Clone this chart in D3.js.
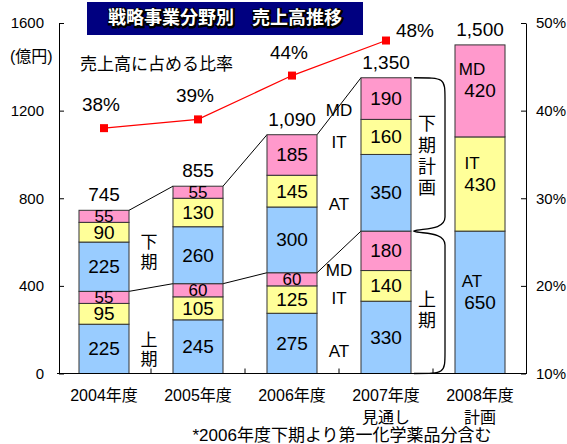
<!DOCTYPE html>
<html><head><meta charset="utf-8">
<script src="https://cdn.jsdelivr.net/npm/d3@7"></script>
<style>
body{margin:0;background:#fff;}
text{font-family:"Liberation Sans","Noto Sans CJK JP",sans-serif;fill:#000;}
</style></head>
<body><svg id="c" width="567" height="444"></svg>
<script>
const years = ["2004","2005","2006","2007","2008"];
const yearLabels = [["2004年度"],["2005年度"],["2006年度"],["2007年度","見通し"],["2008年度","計画"]];
const firstAT = [225,245,275,330];
const firstIT = [95,105,125,140];
const firstMD = [55,60,60,180];
const secondAT = [225,260,300,350];
const secondIT = [90,130,145,160];
const secondMD = [55,55,185,190];
const planAT = 650, planIT = 430, planMD = 420;
const totals = ["745","855","1,090","1,350","1,500"];
const ratio = [38,39,44,48];
const leftTicks = [0,400,800,1200,1600];
const rightTicks = [10,20,30,40,50];
const colors = {AT:"#99CCFF", IT:"#FFFF99", MD:"#FF99CC"};

const svg = d3.select("#c");
const x = d3.scaleBand().domain(years).range([57,527]).paddingInner(0.468).paddingOuter(0.234);
const y = d3.scaleLinear().domain([0,1600]).range([373.5,23]);
const y2 = d3.scaleLinear().domain([10,50]).range([373.5,23]);
const bw = x.bandwidth();

// Build segments
const segs = [];
years.forEach((yr,i)=>{
  if(i<4){
    let base=0;
    [["AT",firstAT[i]],["IT",firstIT[i]],["MD",firstMD[i]],["AT",secondAT[i]],["IT",secondIT[i]],["MD",secondMD[i]]].forEach(([k,v])=>{
      segs.push({yr,k,v,y0:base,y1:base+v}); base+=v;
    });
  } else {
    let base=0;
    [["AT",planAT],["IT",planIT],["MD",planMD]].forEach(([k,v])=>{
      segs.push({yr,k,v,y0:base,y1:base+v,plan:true}); base+=v;
    });
  }
});
const barTop = years.map((yr,i)=> i<4 ? firstAT[i]+firstIT[i]+firstMD[i]+secondAT[i]+secondIT[i]+secondMD[i] : planAT+planIT+planMD);
const halfTop = years.slice(0,4).map((yr,i)=> firstAT[i]+firstIT[i]+firstMD[i]);

// connector lines
const conn = svg.append("g").attr("stroke","#000").attr("stroke-width",1);
for(let i=0;i<3;i++){
  conn.append("line").attr("x1",x(years[i])+bw).attr("y1",y(barTop[i])).attr("x2",x(years[i+1])).attr("y2",y(barTop[i+1]));
  conn.append("line").attr("x1",x(years[i])+bw).attr("y1",y(halfTop[i])).attr("x2",x(years[i+1])).attr("y2",y(halfTop[i+1]));
}

// bars
svg.append("g").selectAll("rect").data(segs).join("rect")
  .attr("x",d=>x(d.yr)).attr("width",bw)
  .attr("y",d=>y(d.y1)).attr("height",d=>y(d.y0)-y(d.y1))
  .attr("fill",d=>colors[d.k]).attr("stroke","#333").attr("stroke-width",1);

// segment labels
svg.append("g").selectAll("text").data(segs).join("text")
  .attr("x",d=>x(d.yr)+bw/2).attr("y",d=>(y(d.y0)+y(d.y1))/2)
  .attr("text-anchor","middle").attr("dominant-baseline","central")
  .attr("font-size",d=>d.v<70?17:19).text(d=>d.v);
// plan category labels
svg.append("g").selectAll("text").data(segs.filter(d=>d.plan)).join("text")
  .attr("x",x("2008")+bw/2-8).attr("y",d=>(y(d.y0)+y(d.y1))/2-21)
  .attr("text-anchor","middle").attr("dominant-baseline","central")
  .attr("font-size",17).text(d=>d.k);

// totals
svg.append("g").selectAll("text").data(years).join("text")
  .attr("x",d=>x(d)+bw/2).attr("y",(d,i)=>y(barTop[i])-9)
  .attr("text-anchor","middle").attr("font-size",19).text((d,i)=>totals[i]);

// axes
const axL = svg.append("g").attr("transform","translate(59,0)")
  .call(d3.axisLeft(y).tickValues(leftTicks).tickSize(-5).tickPadding(15).tickFormat(d3.format("d")).tickSizeOuter(0));
axL.select(".domain").attr("stroke","#000");
axL.selectAll("text").attr("font-size",15).attr("font-family","Liberation Sans");
const axR = svg.append("g").attr("transform","translate(526,0)")
  .call(d3.axisRight(y2).tickValues(rightTicks).tickSize(-5).tickPadding(10).tickFormat(d=>d+"%").tickSizeOuter(0));
axR.selectAll("text").attr("font-size",15).attr("font-family","Liberation Sans");
svg.append("line").attr("x1",57).attr("x2",527).attr("y1",y(0)).attr("y2",y(0)).attr("stroke","#000");
svg.append("g").selectAll("line").data(years.slice(1)).join("line")
  .attr("x1",d=>x(d)-x.step()*x.paddingInner()/2).attr("x2",d=>x(d)-x.step()*x.paddingInner()/2)
  .attr("y1",y(0)).attr("y2",y(0)-5).attr("stroke","#000");

// year labels
const yl = svg.append("g").selectAll("text").data(years).join("text")
  .attr("x",d=>x(d)+bw/2).attr("y",401).attr("text-anchor","middle").attr("font-size",16);
yl.each(function(d,i){
  const t=d3.select(this);
  yearLabels[i].forEach((s,j)=>t.append("tspan").attr("x",x(d)+bw/2).attr("dy",j?22:0).text(s));
});

// ratio line
const lineData = ratio.map((v,i)=>({yr:years[i],v}));
svg.append("path").datum(lineData)
  .attr("d",d3.line().x(d=>x(d.yr)+bw/2).y(d=>y2(d.v)))
  .attr("fill","none").attr("stroke","#FF0000").attr("stroke-width",1.2);
svg.append("g").selectAll("rect").data(lineData).join("rect")
  .attr("x",d=>x(d.yr)+bw/2-4).attr("y",d=>y2(d.v)-4).attr("width",8).attr("height",8).attr("fill","#FF0000");
svg.append("g").selectAll("text").data(lineData).join("text")
  .attr("x",(d,i)=>x(d.yr)+bw/2+(i===3?29:-3)).attr("y",(d,i)=>y2(d.v)-(i===3?4:17))
  .attr("text-anchor","middle").attr("font-size",19).text(d=>d.v+"%");

// side labels
function vtext(xc, ys, chars, size){
  chars.forEach((c,i)=>svg.append("text").attr("x",xc).attr("y",ys[i]).attr("text-anchor","middle")
    .attr("dominant-baseline","central").attr("font-size",size).text(c));
}
vtext(149,[242,262],["下","期"],17);
vtext(149,[340,359],["上","期"],17);
vtext(427,[124,146,167,188],["下","期","計","画"],18);
vtext(427,[300,321],["上","期"],18);
[["MD",110],["IT",142],["AT",204],["MD",270],["IT",298],["AT",351]].forEach(([t,yy])=>
  svg.append("text").attr("x",339).attr("y",yy).attr("text-anchor","middle").attr("dominant-baseline","central").attr("font-size",17).text(t));

// brace
const bx = x("2007")+bw+3, bxr = bx+31;
const yt=y(barTop[3]), ym=y(halfTop[3]), yb=y(0);
const bp = `M${bx},${yt} C${bxr},${yt} ${bxr},${yt} ${bxr},${yt+22} L${bxr},${ym-14} C${bxr},${ym} ${bx+6},${ym-3} ${bx},${ym}`+
  ` C${bx+6},${ym+3} ${bxr},${ym} ${bxr},${ym+14} L${bxr},${yb-22} C${bxr},${yb} ${bxr},${yb} ${bx},${yb}`;
svg.append("path").attr("d",bp).attr("fill","none").attr("stroke","#000").attr("stroke-width",1.3);

// texts
svg.append("text").attr("x",10).attr("y",56).attr("dominant-baseline","central").attr("font-size",16).text("(億円)");
svg.append("text").attr("x",80).attr("y",64).attr("dominant-baseline","central").attr("font-size",17).text("売上高に占める比率");
svg.append("rect").attr("x",87).attr("y",2).attr("width",276).attr("height",33).attr("fill","#000080");
svg.append("text").attr("x",226).attr("y",19).attr("text-anchor","middle").attr("dominant-baseline","central")
  .attr("font-size",18).attr("font-weight","bold").attr("stroke","#000").attr("stroke-width",3)
  .style("fill","#000").text("戦略事業分野別　売上高推移");
svg.append("text").attr("x",225).attr("y",18).attr("text-anchor","middle").attr("dominant-baseline","central")
  .attr("font-size",18).attr("font-weight","bold").style("fill","#fff").text("戦略事業分野別　売上高推移");
svg.append("text").attr("x",342).attr("y",441).attr("text-anchor","middle").attr("font-size",17)
  .text("*2006年度下期より第一化学薬品分含む");
</script></body></html>
